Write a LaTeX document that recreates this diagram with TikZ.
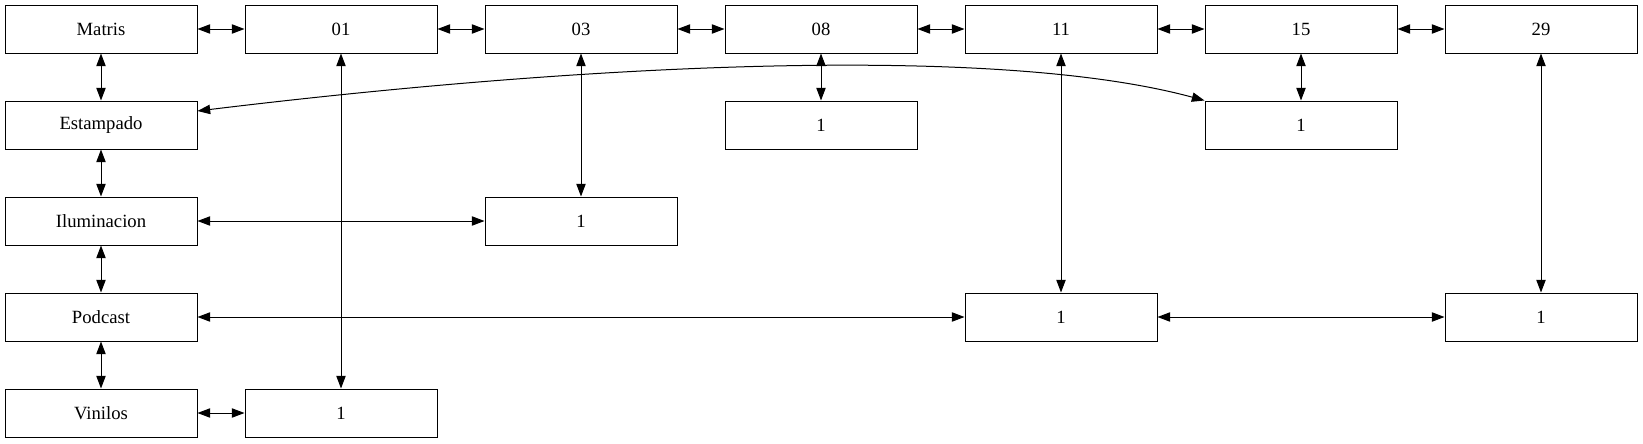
\documentclass[tikz,border=0pt]{standalone}
\usepackage{fontspec}
\setmainfont{Liberation Serif}
\usetikzlibrary{arrows.meta}
\begin{document}
\begin{tikzpicture}[x=0.75pt,y=-0.75pt,
  box/.style={draw,line width=0.75pt,rectangle,minimum width=144pt,minimum height=36pt,inner sep=0pt,font=\fontsize{14pt}{16pt}\selectfont},
  link/.style={line width=0.75pt,{Triangle[length=9.5pt,width=7pt]}-{Triangle[length=9.5pt,width=7pt]}}]
\useasboundingbox (0,0) rectangle (1643,443);
\node[box] (matris) at (101,29) {Matris};
\node[box] (estampado) at (101,125) {Estampado};
\node[box] (ilum) at (101,221) {Iluminacion};
\node[box] (podcast) at (101,317) {Podcast};
\node[box] (vinilos) at (101,413) {Vinilos};
\node[box] (n01) at (341,29) {01};
\node[box] (n03) at (581,29) {03};
\node[box] (n08) at (821,29) {08};
\node[box] (n11) at (1061,29) {11};
\node[box] (n15) at (1301,29) {15};
\node[box] (n29) at (1541,29) {29};
\node[box] (a08) at (821,125) {1};
\node[box] (a15) at (1301,125) {1};
\node[box] (a03) at (581,221) {1};
\node[box] (a11) at (1061,317) {1};
\node[box] (a29) at (1541,317) {1};
\node[box] (a01) at (341,413) {1};
\draw[link] (matris) -- (n01);
\draw[link] (n01) -- (n03);
\draw[link] (n03) -- (n08);
\draw[link] (n08) -- (n11);
\draw[link] (n11) -- (n15);
\draw[link] (n15) -- (n29);
\draw[link] (matris) -- (estampado);
\draw[link] (estampado) -- (ilum);
\draw[link] (ilum) -- (podcast);
\draw[link] (podcast) -- (vinilos);
\draw[link] (n01) -- (a01);
\draw[link] (n03) -- (a03);
\draw[link] (n08) -- (a08);
\draw[link] (n11) -- (a11);
\draw[link] (n15) -- (a15);
\draw[link] (n29) -- (a29);
\draw[link] (ilum) -- (a03);
\draw[link] (podcast) -- (a11);
\draw[link] (a11) -- (a29);
\draw[link] (vinilos) -- (a01);
\draw[link] ([yshift=10.5pt]estampado.east) .. controls (600,62) and (1000,45) .. (a15.north west);
\end{tikzpicture}
\end{document}
